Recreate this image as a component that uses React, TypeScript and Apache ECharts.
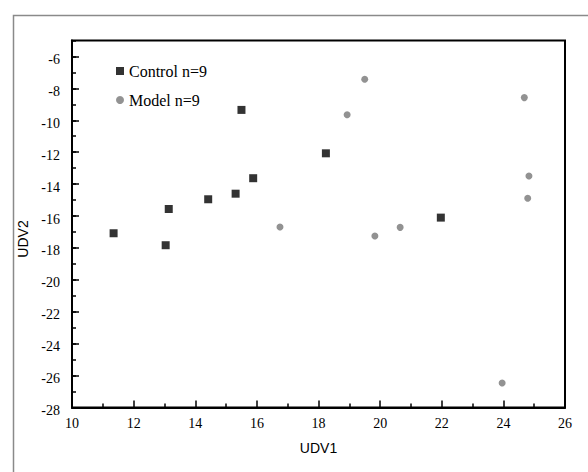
import React, { useEffect, useRef } from "react";
import * as echarts from "echarts";

const controlX = [11.35, 13.04, 13.14, 14.42, 15.31, 15.88, 18.24, 15.5, 21.97];
const controlY = [-17.08, -17.83, -15.56, -14.95, -14.6, -13.63, -12.07, -9.35, -16.1];
const modelX = [16.75, 19.5, 18.93, 24.68, 24.83, 24.79, 20.65, 19.83, 23.96];
const modelY = [-16.69, -7.43, -9.65, -8.58, -13.49, -14.89, -16.71, -17.25, -26.46];
const seriesNames = ["Control n=9", "Model n=9"];
const axisNames = ["UDV1", "UDV2"];

export default function App() {
  const ref = useRef<HTMLDivElement>(null);
  useEffect(() => {
    if (!ref.current) return;
    const chart = echarts.init(ref.current, null, { renderer: "svg" });
    const serif = "Liberation Serif";
    const sans = "Liberation Sans";
    chart.setOption({
      animation: false,
      backgroundColor: "#fff",
      graphic: [
        {
          type: "rect",
          left: 11,
          top: 13,
          shape: { x: 0, y: 0, width: 620, height: 500 },
          style: { fill: "none", stroke: "#8a8a8a", lineWidth: 1.5 },
          silent: true,
        },
      ],
      grid: {
        left: 72,
        top: 40.5,
        right: 23,
        bottom: 64.5,
        show: true,
        borderColor: "#000",
        borderWidth: 2,
        backgroundColor: "transparent",
      },
      legend: {
        orient: "vertical",
        left: 116,
        top: 63,
        padding: 0,
        itemWidth: 8,
        itemHeight: 8,
        itemGap: 13,
        textStyle: { fontFamily: serif, fontSize: 16, color: "#000", lineHeight: 16 },
        data: seriesNames,
      },
      xAxis: {
        type: "value",
        min: 10,
        max: 26,
        interval: 2,
        name: axisNames[0],
        nameLocation: "middle",
        nameGap: 33,
        nameTextStyle: { fontFamily: sans, fontSize: 14, color: "#000" },
        axisLine: { show: true, lineStyle: { color: "#000", width: 2 } },
        axisTick: { show: true, inside: true, length: 7, lineStyle: { color: "#000", width: 1.5 } },
        minorTick: { show: true, splitNumber: 2, length: 4, lineStyle: { color: "#000", width: 1.5 } },
        axisLabel: {
          margin: 9,
          formatter: (v: number) => "{t|" + v + "}",
          rich: { t: { fontFamily: serif, fontSize: 14, color: "#000" } },
        },
        splitLine: { show: false },
      },
      yAxis: [
        {
          type: "value",
          min: -28,
          max: -5,
          interval: 2,
          name: axisNames[1],
          nameLocation: "middle",
          nameGap: 34,
          nameTextStyle: { fontFamily: sans, fontSize: 14, color: "#000", padding: [0, 30, 0, 0] },
          axisLine: { show: true, lineStyle: { color: "#000", width: 2 } },
          axisTick: { show: true, inside: true, length: 7, lineStyle: { color: "#000", width: 1.5 } },
          axisLabel: {
            margin: 12,
            showMaxLabel: false,
            formatter: (v: number) => "{t|" + v + "}",
            rich: { t: { fontFamily: serif, fontSize: 14, color: "#000", padding: [6, 0, 0, 0] } },
          },
          splitLine: { show: false },
        },
        {
          type: "value",
          min: -28,
          max: -5,
          interval: 1,
          position: "left",
          axisLine: { show: false },
          axisTick: { show: true, inside: true, length: 4, lineStyle: { color: "#000", width: 1.5 } },
          axisLabel: { show: false },
          splitLine: { show: false },
        },
      ],
      series: [
        {
          name: seriesNames[0],
          type: "scatter",
          symbol: "rect",
          symbolSize: 8,
          itemStyle: { color: "#000" },
          data: controlX.map((x, i) => [x, controlY[i]]),
        },
        {
          name: seriesNames[1],
          type: "scatter",
          symbol: "circle",
          symbolSize: 7,
          itemStyle: { color: "#777" },
          data: modelX.map((x, i) => [x, modelY[i]]),
        },
      ],
    });
    return () => chart.dispose();
  }, []);
  return (
    <div
      ref={ref}
      style={{ position: "fixed", left: 0, top: 0, width: 588, height: 472, background: "#fff" }}
    />
  );
}
